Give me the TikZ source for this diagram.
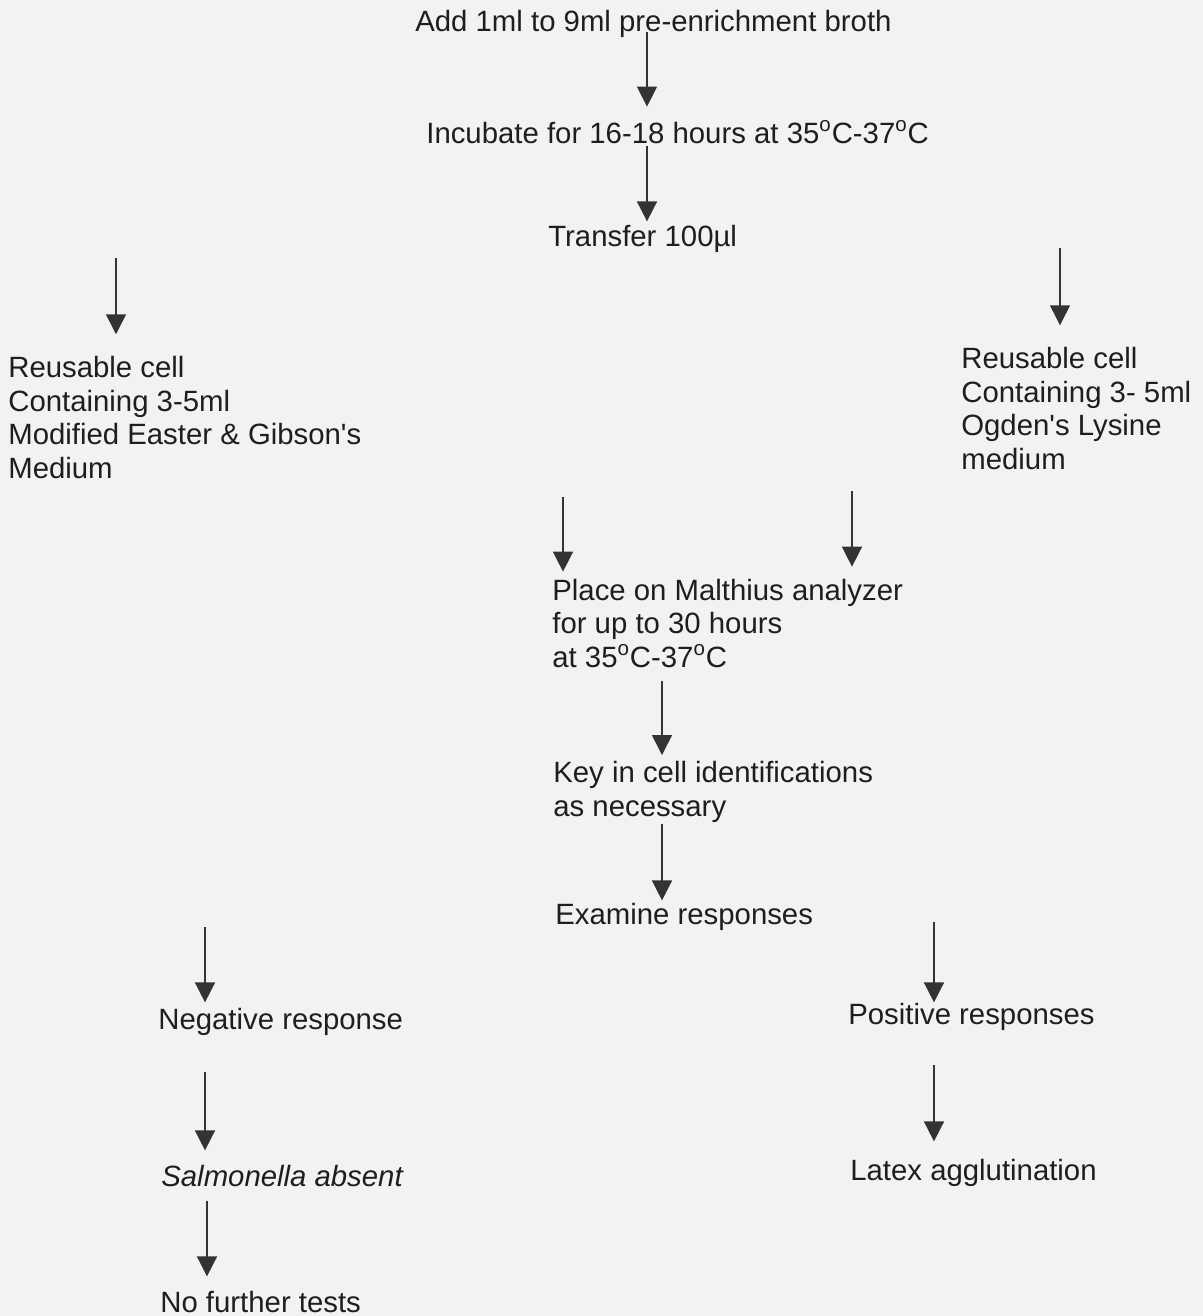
\documentclass[tikz,border=0pt]{standalone}
\usepackage{fontspec}
\setmainfont{Liberation Sans}
\usepackage{xcolor}
\usetikzlibrary{arrows.meta}

\definecolor{paper}{HTML}{F2F2F2}
\definecolor{ink}{HTML}{1E1E1E}
\newcommand{\degC}{\textsuperscript{o}C}

\begin{document}
\begin{tikzpicture}[
  x=0.02cm, y=-0.02cm,
  txt/.style={anchor=base west, inner sep=0pt, align=left, text=ink,
              font=\fontsize{16.7}{19}\selectfont},
  arr/.style={-{Triangle[length=0.4cm, width=0.4cm]}, line width=0.9pt,
              draw=black!80},
]

%% --- Page ---
\fill[paper] (0,0) rectangle (1203,1316);
\useasboundingbox (0,0) rectangle (1203,1316);

%% --- Nodes (placed at the baseline of their last line) ---
\node[txt] (add)    at (415,31)  {Add 1ml to 9ml pre-enrichment broth};
\node[txt] (incub)  at (426,143) {Incubate for 16-18 hours at 35\degC-37\degC};
\node[txt] (trans)  at (548,246) {Transfer 100µl};

\node[txt] (lcell)  at (8,478)   {Reusable cell\\Containing 3-5ml\\
                                  Modified Easter \& Gibson\textquotesingle s\\Medium};
\node[txt] (rcell)  at (961,469) {Reusable cell\\Containing 3- 5ml\\
                                  Ogden\textquotesingle s Lysine\\medium};

\node[txt] (place)  at (552,667) {Place on Malthius analyzer\\
                                  for up to 30 hours\\at 35\degC-37\degC};
\node[txt] (key)    at (553,816) {Key in cell identifications\\as necessary};
\node[txt] (exam)   at (555,924) {Examine responses};

\node[txt] (neg)    at (158,1029) {Negative response};
\node[txt] (pos)    at (848,1024) {Positive responses};
\node[txt] (salm)   at (161,1186) {\itshape Salmonella absent};
\node[txt] (latex)  at (850,1180) {Latex agglutination};
\node[txt] (nomore) at (160,1312) {No further tests};

%% --- Arrow columns ---
\coordinate (cx)  at (647,0);
\coordinate (lx)  at (116,0);
\coordinate (rx)  at (1060,0);
\coordinate (px)  at (563,0);
\coordinate (qx)  at (852,0);
\coordinate (kx)  at (662,0);
\coordinate (nx)  at (205,0);
\coordinate (sx)  at (207,0);
\coordinate (ox)  at (934,0);

%% --- Arrows ---
\draw[arr, shorten <=-0.10cm, shorten >=0.28cm] (add.south -| cx)   -- (incub.north -| cx);
\draw[arr, shorten <=0.04cm,  shorten >=0.06cm] (incub.south -| cx) -- (trans.north -| cx);
\draw[arr, shorten <=0.12cm,  shorten >=0.44cm] (trans.south -| lx) -- (lcell.north -| lx);
\draw[arr, shorten <=-0.08cm, shorten >=0.44cm] (trans.south -| rx) -- (rcell.north -| rx);
\draw[arr, shorten <=0.37cm,  shorten >=0.14cm] (lcell.south -| px) -- (place.north -| px);
\draw[arr, shorten <=0.43cm,  shorten >=0.24cm] (rcell.south -| qx) -- (place.north -| qx);
\draw[arr, shorten <=0.26cm,  shorten >=0.12cm] (place.south -| kx) -- (key.north -| kx);
\draw[arr, shorten <=0.03cm,  shorten >=0.04cm] (key.south -| kx)   -- (exam.north -| kx);
\draw[arr, shorten <=-0.06cm, shorten >=0.10cm] (exam.south -| nx)  -- (neg.north -| nx);
\draw[arr, shorten <=-0.16cm, shorten >=0cm]    (exam.south -| ox)  -- (pos.north -| ox);
\draw[arr, shorten <=0.74cm,  shorten >=0.28cm] (neg.south -| nx)   -- (salm.north -| nx);
\draw[arr, shorten <=0.70cm,  shorten >=0.34cm] (pos.south -| ox)   -- (latex.north -| ox);
\draw[arr, shorten <=0.28cm,  shorten >=0.28cm] (salm.south -| sx)  -- (nomore.north -| sx);

\end{tikzpicture}
\end{document}
